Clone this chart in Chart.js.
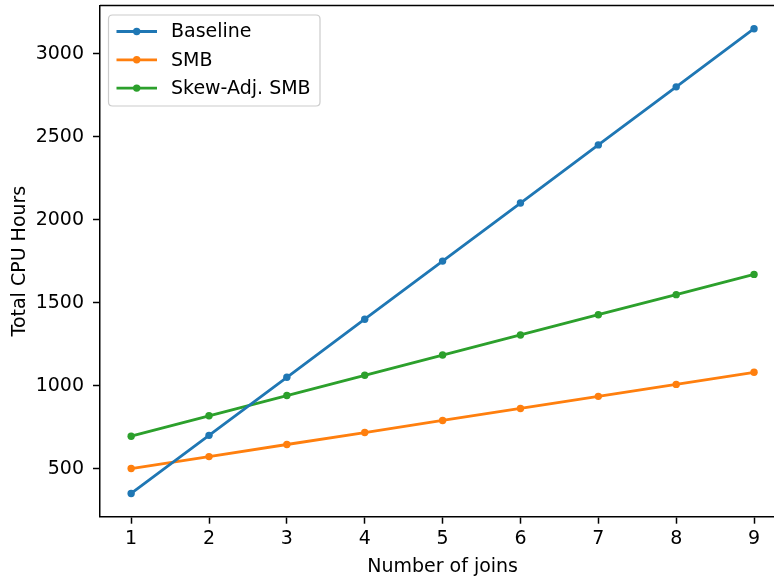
<!DOCTYPE html>
<html>
<head>
<meta charset="utf-8">
<script src="https://cdn.jsdelivr.net/npm/chart.js@4.4.1/dist/chart.umd.min.js"></script>
<style>
  html, body { margin: 0; padding: 0; background: #ffffff; overflow: hidden; }
  #wrap { width: 790px; height: 580px; }
</style>
</head>
<body>
<div id="wrap"><canvas id="c" width="790" height="580"></canvas></div>
<script>
// ---- data ----
const joins = [1, 2, 3, 4, 5, 6, 7, 8, 9];
const baseline = [350, 700, 1050, 1400, 1750, 2100, 2450, 2800, 3150];
const smb = [500, 572, 645, 717, 790, 862, 935, 1007, 1080];
const skewAdjSmb = [695, 818, 940, 1062, 1184, 1305, 1427, 1548, 1670];
const yTicks = [500, 1000, 1500, 2000, 2500, 3000];
const seriesNames = ['Baseline', 'SMB', 'Skew-Adj. SMB'];
const xTitle = 'Number of joins';
const yTitle = 'Total CPU Hours';

const FONT = 'DejaVu Sans';
const FS = 19;
const colors = ['#1f77b4', '#ff7f0e', '#2ca02c'];

function toXY(vals) { return joins.map((x, i) => ({ x: x, y: vals[i] })); }

const seriesValues = [baseline, smb, skewAdjSmb];
const datasets = seriesNames.map((name, i) => ({
  label: name,
  data: toXY(seriesValues[i]),
  borderColor: colors[i],
  backgroundColor: colors[i],
  borderWidth: 2.8,
  pointRadius: 3.7,
  pointBorderWidth: 0,
  pointBackgroundColor: colors[i],
  tension: 0,
  fill: false
}));

// spines (top/right) plugin
const framePlugin = {
  id: 'frame',
  afterDraw(chart) {
    const { ctx, chartArea: a } = chart;
    ctx.save();
    ctx.strokeStyle = '#000';
    ctx.lineWidth = 1.5;
    ctx.beginPath();
    ctx.moveTo(a.left, a.top);
    ctx.lineTo(a.right, a.top);
    ctx.lineTo(a.right, a.bottom);
    ctx.stroke();
    ctx.restore();
  }
};

// matplotlib-like legend inside the axes (upper left)
const legendPlugin = {
  id: 'mplLegend',
  afterDraw(chart) {
    const { ctx, chartArea: a } = chart;
    const ds = chart.data.datasets;
    const x0 = a.left + 8.5, y0 = a.top + 9.5;
    const w = 211.5, h = 91;
    const rowH = 28.3, firstRow = y0 + 16.5;
    ctx.save();
    ctx.beginPath();
    const r = 4;
    ctx.moveTo(x0 + r, y0);
    ctx.lineTo(x0 + w - r, y0);
    ctx.quadraticCurveTo(x0 + w, y0, x0 + w, y0 + r);
    ctx.lineTo(x0 + w, y0 + h - r);
    ctx.quadraticCurveTo(x0 + w, y0 + h, x0 + w - r, y0 + h);
    ctx.lineTo(x0 + r, y0 + h);
    ctx.quadraticCurveTo(x0, y0 + h, x0, y0 + h - r);
    ctx.lineTo(x0, y0 + r);
    ctx.quadraticCurveTo(x0, y0, x0 + r, y0);
    ctx.closePath();
    ctx.fillStyle = 'rgba(255,255,255,0.8)';
    ctx.fill();
    ctx.strokeStyle = '#cccccc';
    ctx.lineWidth = 1.2;
    ctx.stroke();
    ds.forEach((d, i) => {
      const yy = firstRow + i * rowH;
      ctx.strokeStyle = d.borderColor;
      ctx.lineWidth = 2.8;
      ctx.beginPath();
      ctx.moveTo(x0 + 8, yy);
      ctx.lineTo(x0 + 48.5, yy);
      ctx.stroke();
      ctx.fillStyle = d.borderColor;
      ctx.beginPath();
      ctx.arc(x0 + 28.2, yy, 3.7, 0, Math.PI * 2);
      ctx.fill();
      ctx.fillStyle = '#000';
      ctx.font = FS + 'px "' + FONT + '"';
      ctx.textBaseline = 'middle';
      ctx.textAlign = 'left';
      ctx.fillText(d.label, x0 + 62.5, yy + 1);
    });
    ctx.restore();
  }
};

new Chart(document.getElementById('c'), {
  type: 'line',
  data: { datasets: datasets },
  plugins: [framePlugin, legendPlugin],
  options: {
    responsive: false,
    animation: false,
    layout: { padding: { left: 0, right: 4.8, top: 5.5, bottom: 0 } },
    plugins: { legend: { display: false }, tooltip: { enabled: false } },
    scales: {
      x: {
        type: 'linear',
        min: 0.6,
        max: 9.4,
        afterBuildTicks(scale) { scale.ticks = joins.map(v => ({ value: v })); },
        afterFit(scale) { scale.height = 63.3; scale.paddingLeft = 0; scale.paddingRight = 0; },
        grid: { drawOnChartArea: false, drawTicks: true, tickLength: 7, tickWidth: 1.5, tickColor: '#000' },
        border: { display: true, color: '#000', width: 1.5 },
        ticks: { color: '#000', font: { family: FONT, size: FS }, padding: 4, maxRotation: 0, autoSkip: false },
        title: { display: true, text: xTitle, color: '#000', font: { family: FONT, size: FS }, padding: { top: 0, bottom: 2 } }
      },
      y: {
        type: 'linear',
        min: 210,
        max: 3290,
        afterBuildTicks(scale) { scale.ticks = yTicks.map(v => ({ value: v })); },
        afterFit(scale) { scale.width = 100; scale.paddingTop = 0; scale.paddingBottom = 0; },
        grid: { drawOnChartArea: false, drawTicks: true, tickLength: 7, tickWidth: 1.5, tickColor: '#000' },
        border: { display: true, color: '#000', width: 1.5 },
        ticks: { color: '#000', font: { family: FONT, size: FS }, padding: 9, autoSkip: false,
                 callback: (v) => String(v) },
        title: { display: true, text: yTitle, color: '#000', font: { family: FONT, size: FS }, padding: { top: 9, bottom: 0 } }
      }
    }
  }
});
</script>
</body>
</html>
